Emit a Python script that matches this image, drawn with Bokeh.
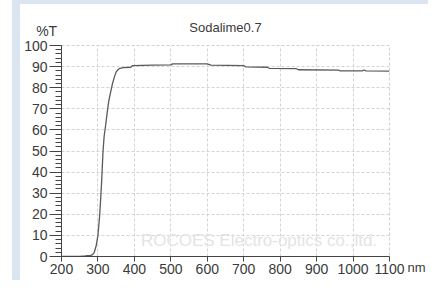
from bokeh.plotting import figure
from bokeh.models import Range1d, Label, FixedTicker, LinearAxis, Spacer
from bokeh.layouts import row, column
from bokeh.embed import file_html
from bokeh.resources import INLINE

# data
wavelength_nm = [200, 250, 265, 272, 280, 285, 290, 295, 300, 305, 310, 314, 317, 321,
                 326, 330, 335, 340, 345, 350, 355, 360, 370, 390, 395, 450, 500, 505,
                 600, 610, 700, 705, 765, 770, 845, 850, 960, 965, 1025, 1030, 1035, 1100]
transmission = [0.1, 0.1, 0.3, 0.4, 0.5, 0.9, 2.0, 5.0, 10.0, 20.0, 35.0, 50.0, 57.0, 62.0,
                69.0, 74.0, 78.0, 82.0, 85.0, 87.5, 88.5, 89.2, 89.5, 89.7, 90.5, 90.7, 90.8, 91.3,
                91.3, 90.7, 90.5, 89.9, 89.7, 89.2, 89.0, 88.5, 88.3, 88.0, 88.0, 88.4, 88.0, 87.9]
x_ticks = [200, 300, 400, 500, 600, 700, 800, 900, 1000, 1100]
y_ticks = [0, 10, 20, 30, 40, 50, 60, 70, 80, 90, 100]
title_text = "Sodalime0.7"
y_unit = "%T"
x_unit = "nm"
watermark = "ROCOES Electro-optics co.,ltd."

FONT = "Liberation Sans"
TXT = "#3a3a3a"
BLUE = "#dae5f1"

p = figure(width=408, height=276, output_backend="svg", toolbar_location=None,
           x_range=Range1d(200, 1100), y_range=Range1d(0, 100),
           min_border_left=41, min_border_right=35, min_border_top=41, min_border_bottom=24)
p.background_fill_color = "white"
p.border_fill_color = "white"
p.outline_line_color = "#cfcfcf"
p.outline_line_dash = "3 2"

# title above
p.title.text = title_text
p.title.text_font = FONT
p.title.text_font_size = "13px"
p.title.text_font_style = "normal"
p.title.text_color = TXT
p.title.align = "center"
p.title.offset = 8
p.title.standoff = 22

# grids
p.xgrid.ticker = FixedTicker(ticks=x_ticks)
p.ygrid.ticker = FixedTicker(ticks=y_ticks)
for g in (p.xgrid, p.ygrid):
    g.grid_line_color = "#d4d4d4"
    g.grid_line_dash = "3 2"
    g.grid_line_width = 1

# x axis
xa = p.xaxis[0]
xa.ticker = FixedTicker(ticks=x_ticks)
xa.axis_line_color = "#444444"
xa.major_tick_line_color = "#444444"
xa.major_tick_out = 5
xa.major_tick_in = 0
xa.minor_tick_line_color = None
xa.major_label_text_font = FONT
xa.major_label_text_font_size = "14px"
xa.major_label_text_color = TXT
xa.major_label_standoff = 2

# y axis, with its unit at the top end
ya = p.yaxis[0]
ya.ticker = FixedTicker(ticks=y_ticks, minor_ticks=list(range(0, 101, 2)))
ya.axis_line_color = "#444444"
ya.major_tick_line_color = "#444444"
ya.minor_tick_line_color = "#444444"
ya.major_tick_out = 12
ya.major_tick_in = 0
ya.minor_tick_out = 6
ya.minor_tick_in = 0
ya.major_label_text_font = FONT
ya.major_label_text_font_size = "14px"
ya.major_label_text_color = TXT
ya.major_label_standoff = 2
ya.axis_label = y_unit + "\n"
ya.axis_label_orientation = "horizontal"
ya.axis_label_align = "end"
ya.axis_label_standoff = -36
ya.axis_label_text_font = FONT
ya.axis_label_text_font_size = "14px"
ya.axis_label_text_font_style = "normal"
ya.axis_label_text_color = TXT
ya.axis_label_text_line_height = 1.8

# unit of the x axis, carried by an empty right axis
ra = LinearAxis(ticker=FixedTicker(ticks=[]), axis_line_color=None,
                major_tick_line_color=None, minor_tick_line_color=None,
                axis_label="\n" + x_unit, axis_label_orientation="horizontal",
                axis_label_align="start", axis_label_standoff=18,
                axis_label_text_font=FONT, axis_label_text_font_size="13px",
                axis_label_text_font_style="normal", axis_label_text_color=TXT,
                axis_label_text_line_height=1.4)
p.add_layout(ra, "right")

# watermark
p.add_layout(Label(x=742, y=7.5, text=watermark, text_font=FONT, text_font_size="17px",
                   text_color="#e4e4e4", text_align="center", text_baseline="middle"))

# curve
p.line(wavelength_nm, transmission, line_color="#5a5a5a", line_width=1.3)

page = column(
    row(Spacer(width=12, height=4), Spacer(width=416, height=4, styles={"background-color": BLUE}),
        spacing=0),
    row(Spacer(width=12, height=276), Spacer(width=8, height=276, styles={"background-color": BLUE}),
        p, spacing=0),
    spacing=0)

open("out.html", "w").write(file_html(page, INLINE))
